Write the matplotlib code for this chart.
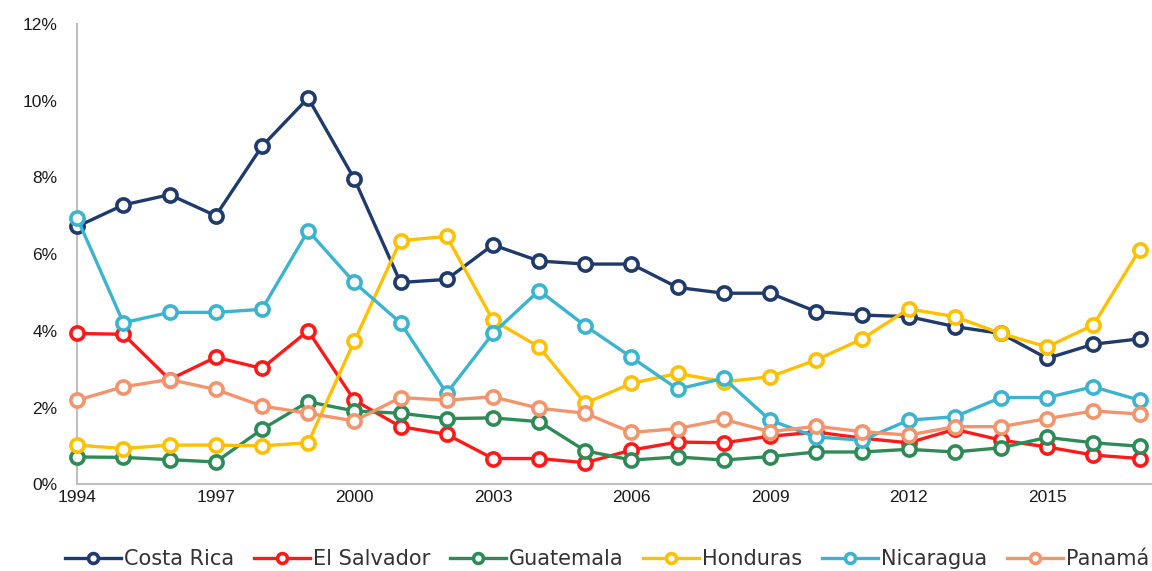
import matplotlib.pyplot as plt
from matplotlib.ticker import FuncFormatter

years = list(range(1994, 2018))

costa_rica = [6.72, 7.28, 7.55, 7.00, 8.81, 10.07, 7.96, 5.26, 5.34, 6.24, 5.82, 5.74,
              5.74, 5.13, 4.98, 4.98, 4.50, 4.41, 4.37, 4.11, 3.93, 3.28, 3.65, 3.79]
el_salvador = [3.93, 3.91, 2.73, 3.31, 3.02, 4.00, 2.19, 1.50, 1.30, 0.67, 0.67, 0.56,
               0.89, 1.10, 1.08, 1.25, 1.36, 1.20, 1.08, 1.43, 1.15, 0.97, 0.76, 0.67]
guatemala = [0.71, 0.70, 0.64, 0.58, 1.43, 2.15, 1.91, 1.85, 1.71, 1.73, 1.63, 0.87,
             0.63, 0.71, 0.63, 0.72, 0.84, 0.84, 0.91, 0.84, 0.95, 1.22, 1.08, 0.99]
honduras = [1.02, 0.93, 1.02, 1.02, 1.00, 1.08, 3.73, 6.35, 6.46, 4.28, 3.58, 2.11,
            2.63, 2.89, 2.67, 2.80, 3.24, 3.79, 4.57, 4.37, 3.93, 3.58, 4.15, 6.11]
nicaragua = [6.94, 4.21, 4.48, 4.48, 4.56, 6.61, 5.26, 4.21, 2.37, 3.93, 5.05, 4.13,
             3.31, 2.48, 2.76, 1.67, 1.23, 1.15, 1.67, 1.76, 2.26, 2.26, 2.54, 2.19]
panama = [2.19, 2.54, 2.73, 2.47, 2.04, 1.85, 1.65, 2.26, 2.19, 2.28, 1.98, 1.85,
          1.35, 1.45, 1.69, 1.37, 1.51, 1.37, 1.28, 1.50, 1.50, 1.71, 1.91, 1.83]

series = [
    ('Costa Rica', costa_rica, '#1f3a6b'),
    ('El Salvador', el_salvador, '#ff1a1a'),
    ('Guatemala', guatemala, '#2e8b57'),
    ('Honduras', honduras, '#ffc000'),
    ('Nicaragua', nicaragua, '#3cb4cf'),
    ('Panamá', panama, '#f2946c'),
]

fig = plt.figure(figsize=(11.52, 5.71), dpi=100)
ax = fig.add_axes([0.067, 0.152, 0.933, 0.806])

for name, vals, col in series:
    ax.plot(years, vals, color=col, lw=2.4, marker='o', ms=9.5, mfc='white',
            mec=col, mew=2.6, label=name, clip_on=False, zorder=3)

ax.set_xlim(1994, 2017.27)
ax.set_ylim(0, 12)
ax.set_xticks(range(1994, 2017, 3))
ax.set_yticks(range(0, 13, 2))
ax.yaxis.set_major_formatter(FuncFormatter(lambda v, p: f'{v:.0f}%'))

for s in ['top', 'right']:
    ax.spines[s].set_visible(False)
for s in ['left', 'bottom']:
    ax.spines[s].set_color('#bfbfbf')
    ax.spines[s].set_linewidth(1.5)
ax.tick_params(length=0, labelsize=12.5, colors='#1a1a1a', pad=4)
ax.tick_params(axis='y', pad=14)
for lab in ax.get_xticklabels() + ax.get_yticklabels():
    lab.set_family('Liberation Sans')

# legend row under the axis
leg = ax.legend(loc='upper center', bbox_to_anchor=(0.493, -0.1), ncol=6,
                frameon=False, handlelength=2.7, handletextpad=0.15,
                columnspacing=0.93, markerscale=0.75,
                prop={'family': 'DejaVu Sans', 'size': 15})
for t in leg.get_texts():
    t.set_color('#333333')

fig.savefig('out.png', dpi=100)
